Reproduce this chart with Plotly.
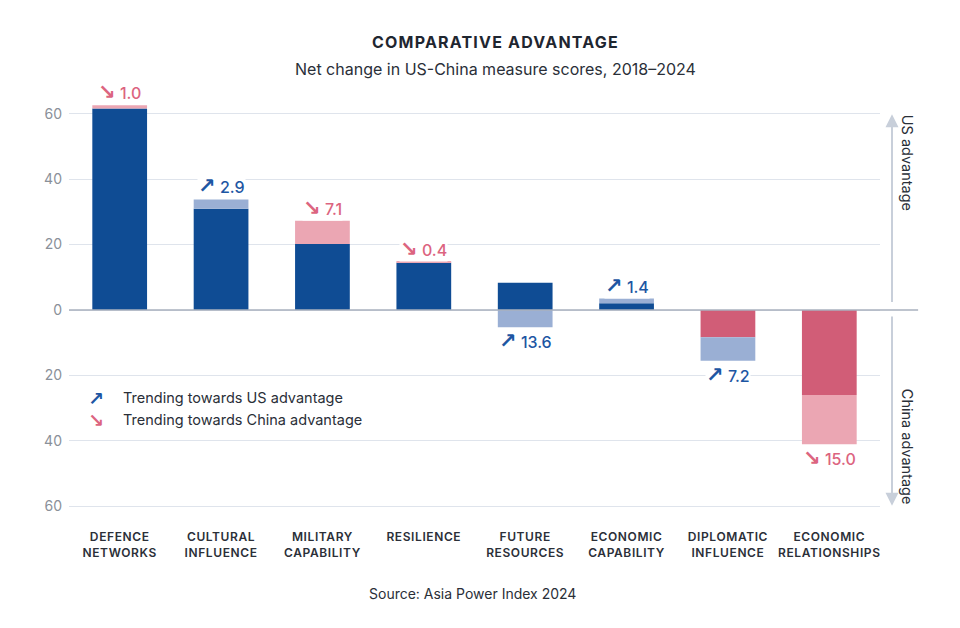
import plotly.graph_objects as go

categories = ["DEFENCE<br>NETWORKS", "CULTURAL<br>INFLUENCE", "MILITARY<br>CAPABILITY",
              "RESILIENCE", "FUTURE<br>RESOURCES", "ECONOMIC<br>CAPABILITY",
              "DIPLOMATIC<br>INFLUENCE", "ECONOMIC<br>RELATIONSHIPS"]
# common (dark) segment, from zero
core_score = [61.6, 30.9, 20.2, 14.4, 8.3, 2.1, -8.3, -26.0]
# change (light) segment
shift_start = [61.6, 30.9, 20.2, 14.4, 0.0, 2.1, -8.3, -26.0]
shift_end = [62.6, 33.8, 27.3, 14.8, -5.3, 3.5, -15.5, -41.0]
net_change = [1.0, 2.9, 7.1, 0.4, 13.6, 1.4, 7.2, 15.0]
trend = ["China", "US", "China", "China", "US", "US", "US", "China"]
y_ticks = [-60, -40, -20, 0, 20, 40, 60]
y_tick_labels = ["60", "40", "20", "0", "20", "40", "60"]

DARK_BLUE = "#0f4c94"
LIGHT_BLUE = "#9aafd4"
DARK_RED = "#d15d77"
LIGHT_RED = "#eba6b3"
TXT_BLUE = "#1d56a3"
TXT_RED = "#dc6480"
FONT = "Inter"


def arrow_span(sym, size=15):
    return (f'<span style="font-family:\'DejaVu Sans\';font-weight:bold;'
            f'font-size:{size}px">{sym}</span>')


def spaced(txt, ls):
    return f'<span style="letter-spacing:{ls}px">{txt}</span>'


x = list(range(len(categories)))

core_colors = [DARK_BLUE if v >= 0 else DARK_RED for v in core_score]
shift_colors = [LIGHT_BLUE if t == "US" else LIGHT_RED for t in trend]

fig = go.Figure()
fig.add_trace(go.Bar(x=x, y=core_score, base=0, width=0.54,
                     marker=dict(color=core_colors, line=dict(width=0)),
                     hoverinfo="skip", showlegend=False))
fig.add_trace(go.Bar(x=x, y=[e - s for s, e in zip(shift_start, shift_end)],
                     base=shift_start, width=0.54,
                     marker=dict(color=shift_colors, line=dict(width=0)),
                     hoverinfo="skip", showlegend=False))

annotations = []
for i in x:
    top = max(core_score[i], shift_end[i], 0)
    bottom = min(core_score[i], shift_end[i], 0)
    arrow = "↗" if trend[i] == "US" else "↘"
    color = TXT_BLUE if trend[i] == "US" else TXT_RED
    if top > 0 and bottom >= 0:
        yv, ys = top, 13
    else:
        yv, ys = bottom, -14
    annotations.append(dict(x=i, y=yv, xref="x", yref="y", yshift=ys,
                            xanchor="center", yanchor="middle",
                            text=f"{arrow_span(arrow, 21)} {net_change[i]:.1f}", showarrow=False,
                            font=dict(family=FONT, size=16, color=color, weight=500),
                            bgcolor="white", borderpad=0))

# Title and subtitle
annotations.append(dict(x=0.5253, y=1.12, xref="paper", yref="paper",
                        xanchor="center", yanchor="middle",
                        text=spaced("COMPARATIVE ADVANTAGE", 1.2), showarrow=False,
                        font=dict(family=FONT, size=16, color="#1f2630", weight=700)))
annotations.append(dict(x=0.5253, y=1.059, xref="paper", yref="paper",
                        xanchor="center", yanchor="middle",
                        text="Net change in US-China measure scores, 2018–2024", showarrow=False,
                        font=dict(family=FONT, size=16, color="#2a2f38")))
# Source
annotations.append(dict(x=0.4975, y=-0.156, xref="paper", yref="paper",
                        xanchor="center", yanchor="middle",
                        text="Source: Asia Power Index 2024", showarrow=False,
                        font=dict(family=FONT, size=14, color="#2a2f38")))
# Legend
for yv, arrow, col, label in [(-26.9, "↗", TXT_BLUE, "Trending towards US advantage"),
                              (-33.7, "↘", TXT_RED, "Trending towards China advantage")]:
    annotations.append(dict(x=0.0333, y=yv, xref="paper", yref="y", text=arrow_span(arrow, 19),
                            xanchor="center", yanchor="middle",
                            showarrow=False, font=dict(family=FONT, size=15, color=col)))
    annotations.append(dict(x=0.0641, y=yv, xref="paper", yref="y", text=label,
                            xanchor="left", yanchor="middle", showarrow=False,
                            font=dict(family=FONT, size=14.5, color="#2a2f38")))
# Side arrows and labels
AX_COL = "#c8cfda"
annotations.append(dict(x=1.0148, y=59.8, xref="paper", yref="y", ax=0, ay=2.0, ayref="y",
                        showarrow=True, arrowhead=2, arrowsize=1.3, arrowwidth=2,
                        arrowcolor=AX_COL, text=""))
annotations.append(dict(x=1.0148, y=-59.8, xref="paper", yref="y", ax=0, ay=-1.5, ayref="y",
                        showarrow=True, arrowhead=2, arrowsize=1.3, arrowwidth=2,
                        arrowcolor=AX_COL, text=""))
annotations.append(dict(x=1.0333, y=45, xref="paper", yref="y", text="US advantage",
                        xanchor="center", yanchor="middle",
                        textangle=90, showarrow=False,
                        font=dict(family=FONT, size=14.5, color="#2a2f38")))
annotations.append(dict(x=1.0333, y=-41.8, xref="paper", yref="y", text="China advantage",
                        xanchor="center", yanchor="middle",
                        textangle=90, showarrow=False,
                        font=dict(family=FONT, size=14.5, color="#2a2f38")))

fig.update_layout(
    width=960, height=628,
    margin=dict(l=61, r=88, t=86, b=110),
    paper_bgcolor="white", plot_bgcolor="white",
    barmode="overlay",
    annotations=annotations,
    shapes=[dict(type="line", xref="paper", yref="y", x0=0, x1=1.047, y0=0, y1=0,
                 line=dict(color="#a9b1be", width=1.5), layer="above")],
    xaxis=dict(range=[-0.5, 7.5], tickvals=x,
               ticktext=[spaced(c, 0.6) for c in categories],
               showgrid=False, zeroline=False, showline=False, ticks="",
               ticklabelstandoff=2,
               tickfont=dict(family=FONT, size=12, color="#2b2f38", weight=600)),
    yaxis=dict(range=[-66, 66], tickvals=y_ticks, ticktext=y_tick_labels,
               showgrid=True, gridcolor="#dfe4ec", gridwidth=1.2, zeroline=False,
               showline=False, ticks="", ticklabelstandoff=6,
               tickfont=dict(family=FONT, size=14, color="#8a9099")),
)

fig.write_html("out.html")
